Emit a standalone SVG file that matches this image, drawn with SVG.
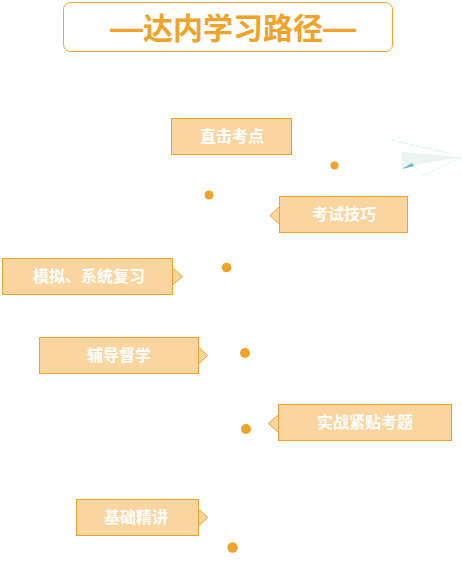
<svg xmlns="http://www.w3.org/2000/svg" width="462" height="566" viewBox="0 0 462 566">
<style>
.box{fill:#fad59f;stroke:#f0a32a;stroke-width:1}
.tip{fill:#fad59f;stroke:#f0a32a;stroke-width:1;stroke-linejoin:miter}
.lbl{font-family:"Noto Sans CJK SC",sans-serif;font-size:16px;font-weight:700;fill:#fff;text-anchor:middle}
.dot{fill:#f0a32a}
.dash{font-family:"Liberation Sans",sans-serif;font-size:33px;font-weight:700}
</style>
<g id="title">
<rect x="63.5" y="2.5" width="329" height="49" rx="7" fill="#fff" stroke="#f0a32a"/>
<text y="39" font-family="'Noto Sans CJK SC',sans-serif" font-size="30" font-weight="700" fill="#f0a32a"><tspan class="dash" x="110">—</tspan><tspan x="143">达内学习路径</tspan><tspan class="dash" x="323">—</tspan></text>
</g>
<g id="plane">
<path d="M392 140L447 153" fill="none" stroke="#d5f2f2" stroke-width="1" stroke-dasharray="5 1"/>
<path d="M462 157L422 176" fill="none" stroke="#dcf5f5" stroke-width="1"/>
<path d="M402 152L461 157L420 164L412 166L402 169Z" fill="#ebf4f1"/>
<path d="M402 169L412 163L414 166Z" fill="#6fb4cf"/>
<path d="M414 165L417 170" stroke="#d5f2f2" fill="none"/>
</g>
<g id="dots">
<circle class="dot" cx="334.500" cy="165.500" r="4"/>
<circle class="dot" cx="209" cy="195" r="4.500"/>
<circle class="dot" cx="226.500" cy="267.500" r="4.800"/>
<circle class="dot" cx="245" cy="353" r="5"/>
<circle class="dot" cx="246" cy="429" r="5"/>
<circle class="dot" cx="232.500" cy="547.500" r="5.200"/>
</g>
<g id="node-1"><rect class="box" x="171.500" y="118.500" width="120" height="36"/><text class="lbl" x="232" y="142">直击考点</text></g>
<g id="node-2"><path class="tip" d="M279.500 206.500L270 215.500L279.500 224.500Z"/><rect class="box" x="279.500" y="196.500" width="128" height="36"/><text class="lbl" x="344" y="220">考试技巧</text></g>
<g id="node-3"><path class="tip" d="M172.500 268L182.500 276.500L172.500 285Z"/><rect class="box" x="2.500" y="258.500" width="170" height="36"/><text class="lbl" x="89" y="282">模拟、系统复习</text></g>
<g id="node-4"><path class="tip" d="M198.500 347L207.500 355.500L198.500 364Z"/><rect class="box" x="39.500" y="337.500" width="159" height="36"/><text class="lbl" x="119" y="361">辅导督学</text></g>
<g id="node-5"><path class="tip" d="M278.500 414.500L268.500 423.500L278.500 432.500Z"/><rect class="box" x="278.500" y="404.500" width="173" height="36"/><text class="lbl" x="365" y="428">实战紧贴考题</text></g>
<g id="node-6"><path class="tip" d="M198.500 509L207.500 517.500L198.500 526Z"/><rect class="box" x="76.500" y="499.500" width="122" height="36"/><text class="lbl" x="136" y="523">基础精讲</text></g>
</svg>
